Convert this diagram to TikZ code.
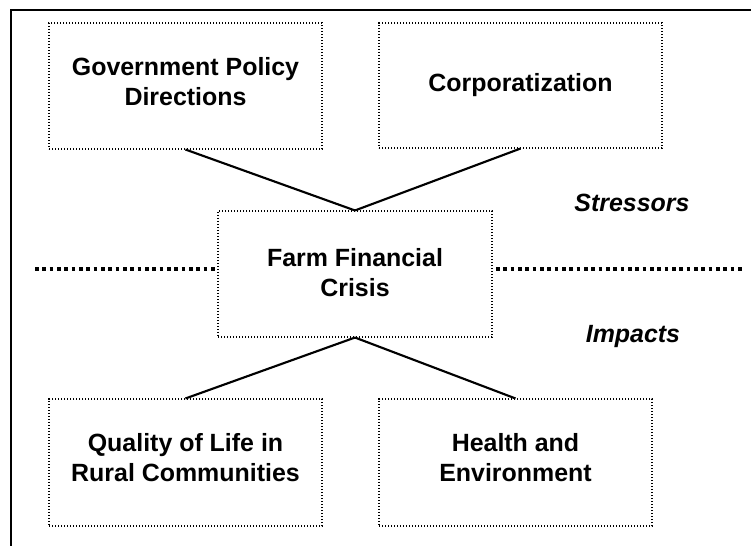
\documentclass[tikz,border=0pt]{standalone}
\usepackage{fontspec}
\setmainfont{Liberation Sans}
\begin{document}
\begin{tikzpicture}[x=0.75pt,y=-0.75pt,
  box/.style={draw=black, line width=0.8pt, dash pattern=on 0.8pt off 1.45pt,
    rectangle, inner sep=0pt, align=center,
    font=\fontsize{18.7}{22.5}\selectfont\bfseries},
  link/.style={draw=black, line width=1.6pt},
  sep/.style={draw=black, line width=2.7pt, dash pattern=on 2.7pt off 2.8pt},
  lbl/.style={inner sep=0pt, font=\fontsize{18.7}{22.5}\selectfont\bfseries\itshape},
  frame/.style={draw=black, line width=1.5pt}]
\useasboundingbox (0,0) rectangle (751,546);
% outer frame (only top and left sides visible)
\coordinate (fA) at (11,560);
\coordinate (fB) at (11,10);
\coordinate (fC) at (765,10);
\draw[frame] (fA) -- (fB) -- (fC);
% boxes
\node[box, text depth=7pt, minimum width=204.75pt, minimum height=94.5pt] (gpd) at (185.5,86) {Government Policy\\Directions};
\node[box, minimum width=212.25pt, minimum height=93.75pt] (corp) at (520.5,85.5) {Corporatization};
\node[box, text depth=2pt, minimum width=205.5pt, minimum height=94.5pt] (farm) at (355,274) {Farm Financial\\Crisis};
\node[box, text depth=7pt, minimum width=204.75pt, minimum height=95.25pt] (qual) at (185.5,462.5) {Quality of Life in\\Rural Communities};
\node[box, text depth=7pt, minimum width=204.75pt, minimum height=95.25pt] (health) at (515.5,462.5) {Health and\\Environment};
% connectors
\draw[link] (gpd.south) -- (farm.north);
\draw[link] (corp.south) -- (farm.north);
\draw[link] (farm.south) -- (qual.north);
\draw[link] (farm.south) -- (health.north);
% separator
\coordinate (sL1) at (35,269);
\coordinate (sL2) at (216,269);
\coordinate (sR1) at (496,269);
\coordinate (sR2) at (742,269);
\draw[sep] (sL1) -- (sL2);
\draw[sep] (sR1) -- (sR2);
% labels
\node[lbl] (stress) at (632,203) {Stressors};
\node[lbl] (imp) at (633,337) {Impacts};
\end{tikzpicture}
\end{document}
